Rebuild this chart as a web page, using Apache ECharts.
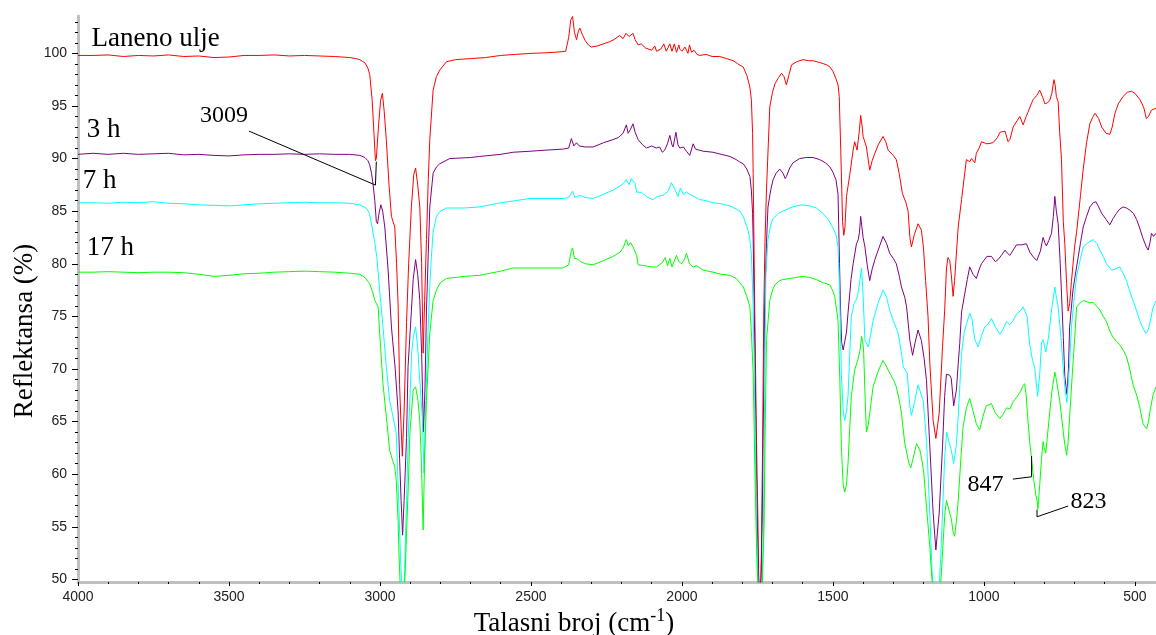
<!DOCTYPE html>
<html><head><meta charset="utf-8">
<script src="https://cdn.jsdelivr.net/npm/echarts@6/dist/echarts.min.js"></script>
<style>html,body{margin:0;padding:0;background:#fff}#c{width:1156px;height:635px}</style>
</head><body><div id="c"></div>
<script>
// ---------- DATA ----------
const seriesNames = ['Laneno ulje', '3 h', '7 h', '17 h'];
const xMajorTicks = [4000, 3500, 3000, 2500, 2000, 1500, 1000, 500];
const xMinorTicks = [4000,3900,3800,3700,3600,3500,3400,3300,3200,3100,3000,2900,2800,2700,2600,2500,2400,2300,2200,2100,2000,1900,1800,1700,1600,1500,1400,1300,1200,1100,1000,900,800,700,600,500];
const yMajorTicks = [50, 55, 60, 65, 70, 75, 80, 85, 90, 95, 100];
const yMinorTicks = [50,51,52,53,54,55,56,57,58,59,60,61,62,63,64,65,66,67,68,69,70,71,72,73,74,75,76,77,78,79,80,81,82,83,84,85,86,87,88,89,90,91,92,93,94,95,96,97,98,99,100,101,102,103];

// Laneno ulje (red)
const lanenoUlje = [
[4000,99.8],[3950,99.8],[3900,99.85],[3850,99.7],[3800,99.8],[3750,99.75],[3700,99.85],[3650,99.7],[3600,99.75],[3550,99.6],[3500,99.65],[3450,99.8],[3400,99.8],[3350,99.85],[3300,99.75],[3250,99.8],[3200,99.75],[3150,99.7],[3100,99.6],[3080,99.5],[3067,99.4],[3050,99.1],[3040,98.6],[3034,98.0],[3026,95.6],[3020,92.5],[3015,89.8],[3012,90.0],[3005,93.0],[2998,95.5],[2992,96.2],[2986,94.5],[2979,91.8],[2970,87.5],[2962,84.5],[2951,83.5],[2945,80.0],[2940,76.2],[2935,68.5],[2930,64.5],[2926,61.7],[2920,66],[2912,74.4],[2905,80],[2896,85.4],[2888,88.5],[2882,89.1],[2875,87.5],[2868,85.4],[2862,80],[2857,71.5],[2852,76.5],[2846,82.3],[2840,88],[2835,91.8],[2824,96.5],[2813,97.8],[2802,98.4],[2780,99.2],[2750,99.4],[2700,99.5],[2650,99.6],[2600,99.8],[2550,99.9],[2500,100.0],[2450,100.05],[2400,100.15],[2385,100.2],[2375,101.5],[2368,103.2],[2362,103.5],[2356,102.0],[2349,101.3],[2343,102.1],[2338,102.4],[2330,101.8],[2320,101.2],[2310,100.8],[2300,100.6],[2280,100.7],[2260,100.9],[2240,101.1],[2225,101.3],[2206,101.7],[2195,101.4],[2185,101.9],[2175,101.6],[2162,101.9],[2155,101.3],[2145,100.8],[2135,100.9],[2120,100.5],[2100,100.3],[2090,100.7],[2084,100.2],[2070,100.4],[2060,100.9],[2052,100.2],[2045,100.6],[2040,100.9],[2033,100.2],[2025,100.9],[2018,100.1],[2010,100.8],[2007,100.4],[2000,100.2],[1990,100.6],[1980,100.0],[1975,100.8],[1968,100.1],[1960,100.3],[1950,99.9],[1941,99.8],[1920,99.9],[1900,99.7],[1875,99.7],[1852,99.5],[1830,99.3],[1815,99.0],[1797,98.7],[1785,97.9],[1775,96.8],[1770,95.6],[1766,92.4],[1764,88.6],[1759,75.9],[1753,63.2],[1748,55.0],[1745,49.0],[1740,48.5],[1737,52],[1733,62.3],[1729,75.3],[1725,82],[1720,87.0],[1709,94.9],[1700,96.3],[1692,97.1],[1680,97.7],[1670,98.1],[1662,97.8],[1654,97.0],[1645,98.0],[1637,98.9],[1620,99.2],[1599,99.4],[1580,99.3],[1566,99.3],[1540,99.1],[1520,98.9],[1510,98.7],[1500,98.3],[1490,97.6],[1483,97.0],[1479,95.9],[1474,90.8],[1468,84.0],[1464,82.7],[1460,83.5],[1455,86.4],[1444,88.5],[1433,90.8],[1428,91.6],[1420,90.8],[1413,92.5],[1408,94.1],[1403,93.0],[1400,92.1],[1394,92.0],[1389,91.1],[1378,88.9],[1370,89.8],[1361,90.5],[1350,91.3],[1334,92.1],[1325,91.6],[1317,90.8],[1300,90.3],[1290,89.9],[1280,88.5],[1270,86.7],[1258,85.8],[1251,85.0],[1245,82.5],[1240,81.6],[1230,82.8],[1218,83.8],[1207,83.2],[1200,81.5],[1193,78.4],[1185,75.0],[1179,70.5],[1168,65.1],[1159,63.4],[1148,65.8],[1137,72.1],[1130,75.5],[1124,79.5],[1119,80.6],[1113,80.3],[1108,79],[1102,76.9],[1097,78.4],[1085,83.5],[1074,86.1],[1058,89.9],[1047,89.7],[1041,90.0],[1030,89.6],[1025,90.5],[1014,91.1],[1008,91.6],[990,91.4],[970,91.5],[955,92.0],[947,92.5],[930,92.6],[920,91.6],[914,91.8],[903,93.0],[890,93.6],[881,94.0],[870,93.2],[860,94.0],[854,94.4],[843,95.2],[837,95.6],[825,96.0],[815,96.5],[812,96.5],[805,95.8],[798,95.2],[790,95.3],[782,95.5],[775,96.2],[768,97.5],[764,97.0],[760,95.9],[754,95.4],[749,92.5],[743,89.9],[737,84],[732,81.9],[726,78.1],[721,75.5],[716,76.2],[710,78.3],[700,81.5],[693,83],[680,86.5],[671,89],[660,91.5],[649,93.3],[640,93.9],[632,94.3],[620,93.8],[610,93.0],[595,92.4],[583,92.3],[575,93],[566,94.3],[555,95.2],[539,95.9],[525,96.3],[511,96.4],[500,96.2],[483,95.6],[470,94.8],[462,93.8],[455,94.0],[445,94.6],[430,94.8]
];

// 3 h (purple)
const h3 = [
[4000,90.4],[3950,90.5],[3900,90.4],[3850,90.5],[3800,90.4],[3750,90.45],[3700,90.5],[3650,90.35],[3600,90.4],[3550,90.3],[3500,90.25],[3450,90.35],[3400,90.4],[3350,90.4],[3300,90.45],[3250,90.4],[3200,90.45],[3150,90.4],[3100,90.4],[3067,90.3],[3050,90.1],[3040,89.8],[3034,89.4],[3028,88.6],[3023,87.6],[3017,86.0],[3012,84.0],[3008,83.8],[3003,84.8],[2997,85.6],[2991,85.0],[2984,83.5],[2973,79.4],[2962,74.0],[2950,70.2],[2940,66.0],[2935,61.5],[2930,57.5],[2925,54.2],[2920,57.5],[2912,63.5],[2907,70.2],[2896,75.5],[2890,78.5],[2882,80.4],[2875,79.0],[2868,76.5],[2862,71.5],[2856,64],[2851,68],[2846,75.5],[2840,81],[2835,85.4],[2824,88.6],[2813,89.2],[2802,89.5],[2769,90.0],[2700,90.1],[2670,90.2],[2600,90.4],[2559,90.6],[2500,90.7],[2450,90.8],[2393,90.9],[2375,91.0],[2366,91.9],[2358,91.2],[2349,91.5],[2340,91.2],[2320,91.1],[2294,91.1],[2260,91.5],[2228,91.8],[2210,92.0],[2195,92.4],[2184,93.2],[2178,92.4],[2170,92.8],[2162,93.3],[2155,92.5],[2145,91.8],[2130,91.3],[2117,91.0],[2100,91.2],[2085,91.0],[2074,91.1],[2065,90.6],[2057,90.8],[2048,91.4],[2040,92.2],[2033,91.3],[2029,91.1],[2020,92.5],[2013,91.3],[2007,91.0],[1995,91.1],[1985,90.7],[1974,90.3],[1963,91.4],[1955,90.9],[1930,90.7],[1897,90.6],[1870,90.4],[1841,90.2],[1820,89.9],[1810,89.7],[1797,89.5],[1785,89.0],[1775,88.3],[1770,87.0],[1766,84.8],[1764,82.3],[1759,72.7],[1753,60.1],[1748,52],[1744,48.5],[1738,50],[1734,56],[1731,63.2],[1726,75.9],[1720,82],[1715,85.4],[1706,87.0],[1698,88.0],[1688,88.6],[1676,89.0],[1665,88.6],[1658,88.1],[1654,88.3],[1643,89.1],[1632,89.6],[1610,90.0],[1588,90.1],[1566,90.1],[1544,89.9],[1525,89.6],[1510,89.2],[1500,88.7],[1490,88.0],[1483,86.6],[1478,80],[1474,75],[1471,72.5],[1466,71.8],[1461,71.8],[1455,73.5],[1450,75.3],[1440,78.5],[1433,80.0],[1422,81.9],[1416,82.3],[1412,83.0],[1408,84.5],[1404,83.5],[1400,82.5],[1394,81.6],[1386,79.8],[1378,78.4],[1370,79.5],[1361,80.4],[1350,81.3],[1334,82.6],[1322,81.9],[1312,81.0],[1300,80.5],[1290,80.0],[1280,78.8],[1273,77.8],[1262,76.8],[1256,75.9],[1245,72.7],[1236,71.3],[1228,72.5],[1218,73.7],[1207,72.7],[1198,71],[1190,68.9],[1179,62.6],[1168,56.3],[1159,52.8],[1148,56.3],[1137,62.6],[1130,67.4],[1124,69.5],[1119,69.5],[1113,69.4],[1108,69.1],[1100,66.5],[1091,68.0],[1085,70.5],[1080,72.4],[1074,75.4],[1063,77.2],[1055,78.5],[1047,79.7],[1036,79.0],[1025,78.6],[1015,79.5],[1008,80.0],[990,80.7],[975,80.7],[962,80.2],[953,80.4],[942,80.8],[930,81.3],[922,81.0],[914,80.8],[903,81.3],[892,81.8],[875,81.8],[859,81.9],[848,81.1],[835,80.6],[825,80.3],[820,80.2],[813,81.2],[804,82.5],[798,82.0],[793,81.7],[785,82.2],[776,82.9],[770,84.5],[765,86.4],[760,85.0],[754,83.8],[748,80.5],[743,77.2],[737,73],[732,69.3],[725,67.6],[720,70],[716,74.0],[705,77.5],[693,79.7],[680,82],[671,83.5],[660,84.5],[649,85.4],[638,85.8],[629,85.9],[620,85.4],[610,84.8],[595,84.2],[583,83.7],[572,84.3],[561,84.8],[550,85.2],[539,85.4],[528,85.3],[517,85.1],[505,84.8],[494,84.2],[483,83.3],[473,82.4],[462,81.6],[456,81.3],[450,82.0],[445,82.9],[438,82.6],[430,82.9]
];

// 7 h (cyan)
const h7 = [
[4000,85.8],[3950,85.8],[3900,85.75],[3850,85.85],[3800,85.8],[3750,85.9],[3700,85.75],[3650,85.7],[3600,85.6],[3550,85.55],[3500,85.5],[3450,85.6],[3400,85.7],[3350,85.75],[3300,85.8],[3250,85.85],[3200,85.8],[3150,85.8],[3100,85.75],[3067,85.6],[3045,85.3],[3035,84.8],[3028,83.8],[3017,82.0],[3010,80.5],[3001,77.5],[2990,74.0],[2979,70.2],[2968,67.0],[2957,65.5],[2946,63.9],[2938,57.5],[2932,52],[2926,48.5],[2920,49],[2912,57.5],[2906,64],[2901,67.0],[2895,71.5],[2890,73],[2882,74.0],[2875,72.0],[2871,70.2],[2860,65.5],[2854,60.1],[2848,67.0],[2841,73.4],[2835,78],[2830,80.5],[2824,83.0],[2813,84.5],[2800,85.0],[2780,85.3],[2720,85.3],[2670,85.4],[2600,85.8],[2550,86.0],[2504,86.2],[2450,86.2],[2393,86.2],[2375,86.3],[2362,86.9],[2355,86.3],[2338,86.5],[2320,86.3],[2294,86.2],[2260,86.6],[2228,87.0],[2205,87.4],[2195,87.6],[2184,88.0],[2175,87.5],[2168,88.1],[2162,88.2],[2155,87.6],[2150,86.8],[2135,86.8],[2117,86.4],[2105,86.2],[2096,86.1],[2080,86.4],[2063,86.5],[2045,86.9],[2035,87.7],[2029,87.4],[2022,87.0],[2013,86.4],[2005,87.2],[1995,86.6],[1985,86.8],[1974,86.6],[1960,86.4],[1941,86.1],[1920,86.0],[1897,85.8],[1870,85.7],[1841,85.5],[1820,85.2],[1808,85.0],[1797,84.5],[1781,83.2],[1775,82.3],[1770,81.0],[1764,75.9],[1758,65],[1752,54],[1747,48.5],[1735,48.5],[1730,55],[1726,68],[1722,79.1],[1715,82.3],[1706,83.7],[1698,84.3],[1680,84.8],[1665,85.0],[1643,85.3],[1621,85.5],[1600,85.6],[1577,85.5],[1555,85.3],[1533,84.8],[1515,84.2],[1500,83.4],[1490,82.8],[1483,81.6],[1478,77.5],[1472,69.5],[1466,66],[1461,65.1],[1455,66],[1450,67.4],[1439,75.0],[1430,76.2],[1424,76.5],[1418,77.0],[1410,78.5],[1405,79.6],[1400,77],[1394,72.7],[1383,72.1],[1375,73.2],[1367,74.6],[1350,76.3],[1334,77.5],[1322,76.8],[1312,75.6],[1300,74.6],[1284,73.4],[1273,71.5],[1267,70.2],[1254,69.6],[1245,66.4],[1240,65.6],[1230,66.8],[1218,68.5],[1207,67.5],[1201,67.0],[1190,63.2],[1179,56.3],[1172,51],[1166,48.5],[1150,48.5],[1143,52],[1137,56.3],[1130,61.5],[1123,64.0],[1115,63.0],[1108,62.3],[1100,61.0],[1091,62.8],[1085,65.5],[1074,71.5],[1065,73.5],[1055,74.5],[1047,75.3],[1040,74.8],[1030,72.8],[1019,72.1],[1008,73.2],[997,74.0],[985,74.3],[975,74.8],[962,74.0],[947,73.3],[936,73.8],[925,74.5],[914,74.2],[903,74.6],[892,75.2],[880,75.5],[870,75.9],[865,76.0],[857,75.0],[848,72.3],[840,71.0],[831,70.0],[822,67.4],[815,69.5],[809,72.5],[804,72.8],[795,71.6],[786,73.0],[776,75.6],[770,76.8],[765,77.8],[760,76.8],[754,75.9],[743,72.4],[737,70],[732,68.3],[725,66.8],[716,70.5],[710,74.0],[700,77.0],[693,78.8],[680,80.5],[671,81.6],[655,82.0],[638,82.3],[625,81.9],[616,81.3],[605,80.7],[594,80.0],[577,79.4],[565,79.5],[550,79.7],[539,79.1],[528,78.4],[517,77.4],[506,76.5],[495,75.6],[484,74.6],[472,73.8],[464,73.4],[457,73.6],[451,74.3],[440,75.8],[430,76.5]
];

// 17 h (green)
const h17 = [
[4000,79.2],[3950,79.2],[3900,79.25],[3850,79.2],[3800,79.15],[3750,79.2],[3700,79.2],[3650,79.15],[3600,79.0],[3550,78.8],[3500,78.9],[3450,79.05],[3400,79.1],[3350,79.2],[3300,79.25],[3250,79.3],[3200,79.25],[3150,79.2],[3100,79.1],[3067,79.0],[3050,78.7],[3034,78.1],[3023,77.2],[3017,76.5],[3006,75.9],[3001,73.4],[2990,68.6],[2979,65.5],[2968,62.3],[2957,61.2],[2951,60.7],[2946,59.4],[2940,55.6],[2937,52.5],[2932,48.5],[2920,48.5],[2916,51],[2912,54.4],[2906,59],[2901,63.9],[2890,68.0],[2882,68.3],[2874,67.0],[2868,65],[2863,61.3],[2857,54.7],[2852,61.7],[2846,67.0],[2835,73.4],[2824,76.5],[2813,77.5],[2800,78.2],[2780,78.6],[2720,78.8],[2670,78.9],[2600,79.3],[2559,79.6],[2450,79.6],[2393,79.6],[2375,79.9],[2366,81.3],[2362,81.5],[2356,80.5],[2349,80.5],[2335,80.2],[2320,80.0],[2294,79.9],[2260,80.3],[2228,80.7],[2205,81.1],[2195,81.5],[2184,82.3],[2178,81.7],[2170,82.0],[2162,81.6],[2150,80.8],[2145,79.9],[2120,79.8],[2100,79.7],[2084,79.7],[2065,80.1],[2055,80.6],[2048,79.8],[2040,80.5],[2033,79.7],[2029,79.7],[2018,80.8],[2010,80.2],[2000,80.0],[1992,80.4],[1985,81.0],[1975,80.0],[1963,79.7],[1950,79.8],[1930,79.4],[1897,79.2],[1870,79.0],[1841,78.9],[1820,78.6],[1797,77.8],[1786,77.0],[1775,75.9],[1770,73.5],[1764,69.6],[1758,60],[1752,52],[1747,48.5],[1735,48.5],[1728,55],[1724,65],[1720,72.7],[1709,76.5],[1700,77.5],[1692,78.0],[1676,78.4],[1665,78.5],[1643,78.6],[1621,78.7],[1600,78.8],[1577,78.7],[1555,78.5],[1533,78.2],[1510,78.0],[1500,77.4],[1494,76.9],[1483,74.6],[1477,68.9],[1472,62.6],[1466,59],[1461,58.3],[1455,59],[1450,61.0],[1439,67.4],[1428,69.9],[1418,70.8],[1410,71.8],[1405,73.1],[1400,72.3],[1398,71.5],[1393,67],[1389,64.0],[1383,64.7],[1378,65.8],[1367,68.3],[1350,69.8],[1334,70.8],[1322,70.2],[1312,69.6],[1300,69.0],[1290,68.3],[1280,67],[1273,65.8],[1262,62.9],[1248,61.0],[1242,60.6],[1230,62.0],[1223,62.9],[1212,62.3],[1205,61.3],[1199,60.1],[1190,56.9],[1179,53.1],[1172,50],[1166,48.5],[1145,48.5],[1138,52],[1130,56],[1124,57.5],[1115,56.5],[1108,55.8],[1102,54.5],[1097,54.1],[1091,55.5],[1085,57.5],[1075,62],[1069,64.5],[1058,66.3],[1047,67.2],[1036,66.0],[1025,64.8],[1014,64.2],[1003,65.5],[992,66.5],[975,66.7],[962,65.8],[947,65.3],[936,65.7],[925,66.3],[914,66.2],[903,66.9],[892,67.3],[880,67.8],[870,68.4],[865,68.6],[860,67.5],[854,65.1],[848,63.0],[843,61.7],[835,59.5],[828,58],[824,57.5],[821,56.7],[815,59],[809,61.5],[804,63.1],[800,62.5],[795,62.0],[785,65],[775,67.8],[765,69.7],[760,69.0],[749,67.0],[737,64],[732,62.8],[726,61.8],[721,63],[716,65.5],[705,70.5],[699,73],[693,75.9],[680,76.3],[671,76.5],[660,76.4],[649,76.3],[638,76.3],[627,76.0],[616,75.6],[605,75.0],[594,74.5],[583,73.6],[572,73.0],[561,72.6],[550,72.3],[539,71.8],[528,71.2],[517,70.0],[506,68.5],[494,67.5],[484,66.4],[473,64.8],[461,64.3],[455,65.0],[448,66.3],[440,67.5],[430,68.3]
];

// Text annotations anchored in data coordinates [wavenumber, value]
const curveLabels = [
  {text: 'Laneno ulje', at: [3955, 101.36]},
  {text: '3 h', at: [3971, 92.76]},
  {text: '7 h', at: [3984, 87.84]},
  {text: '17 h', at: [3971, 81.51]}
];
const peakLabels = [
  {text: '3009', at: [3596, 94.06]},
  {text: '847', at: [1054, 58.96]},
  {text: '823', at: [713, 57.38]}
];
const leader3009 = [[3434, 92.61], [3015, 87.48], [3012, 89.70]];
const leader847 = [[904, 59.53], [842, 59.75], [842, 61.72]];
const leader823 = [[721, 56.97], [824, 55.95], [824, 56.65]];

// ---------- CHART ----------
const colors = ['#ff0000', '#800080', '#00ffff', '#00ff00'];
const SERIF = '"Liberation Serif", "Times New Roman", serif';
const SANS = '"Liberation Sans", Arial, sans-serif';
const chart = echarts.init(document.getElementById('c'), null, {renderer: 'canvas'});

const X_MIN = 430, X_MAX = 4000, Y_MIN = 49.75, Y_MAX = 103.55;
const plainNum = v => String(v);

function leaderSeries(data) {
  return {type: 'line', data: data, xAxisIndex: 0, yAxisIndex: 0, symbol: 'none', silent: true,
    lineStyle: {color: '#000', width: 1}, z: 5, animation: false};
}

const option = {
  animation: false,
  backgroundColor: '#ffffff',
  grid: {left: 78, right: 0, top: 16, bottom: 53},
  xAxis: [
    {type: 'value', inverse: true, min: X_MIN, max: X_MAX, position: 'bottom',
     axisLine: {show: true, onZero: false, lineStyle: {color: '#c0c0c0', width: 3}},
     axisTick: {show: true, customValues: xMajorTicks, length: 4, lineStyle: {color: '#000', width: 1}},
     axisLabel: {show: true, customValues: xMajorTicks, formatter: plainNum, color: '#222', fontFamily: SANS, fontSize: 14, margin: 8},
     splitLine: {show: false}},
    {type: 'value', inverse: true, min: X_MIN, max: X_MAX, position: 'bottom',
     axisLine: {show: false, onZero: false},
     axisTick: {show: true, customValues: xMinorTicks, length: 2, lineStyle: {color: '#000', width: 1}},
     axisLabel: {show: false}, splitLine: {show: false}}
  ],
  yAxis: [
    {type: 'value', min: Y_MIN, max: Y_MAX, position: 'left',
     axisLine: {show: true, onZero: false, lineStyle: {color: '#c0c0c0', width: 3}},
     axisTick: {show: true, customValues: yMajorTicks, length: 6, lineStyle: {color: '#000', width: 1}},
     axisLabel: {show: true, customValues: yMajorTicks, formatter: plainNum, color: '#222', fontFamily: SANS, fontSize: 14, margin: 11},
     splitLine: {show: false}},
    {type: 'value', min: Y_MIN, max: Y_MAX, position: 'left',
     axisLine: {show: false, onZero: false},
     axisTick: {show: true, customValues: yMinorTicks, length: 3, lineStyle: {color: '#000', width: 1}},
     axisLabel: {show: false}, splitLine: {show: false}}
  ],
  series: [
    {name: seriesNames[0], type: 'line', data: lanenoUlje, color: colors[0]},
    {name: seriesNames[1], type: 'line', data: h3, color: colors[1]},
    {name: seriesNames[2], type: 'line', data: h7, color: colors[2]},
    {name: seriesNames[3], type: 'line', data: h17, color: colors[3]}
  ].map(s => Object.assign(s, {xAxisIndex: 0, yAxisIndex: 0, symbol: 'none', showSymbol: false, clip: true,
      lineStyle: {width: 1, color: s.color}, silent: true}))
   .concat([leaderSeries(leader3009), leaderSeries(leader847), leaderSeries(leader823)])
};
chart.setOption(option);

function px(p) { return chart.convertToPixel({xAxisIndex: 0, yAxisIndex: 0}, p); }
const graphics = [];
curveLabels.forEach(l => {
  const p = px(l.at);
  graphics.push({type: 'text', x: p[0], y: p[1], silent: true,
    style: {text: l.text, font: '27px ' + SERIF, fill: '#000', align: 'left', verticalAlign: 'middle'}});
});
peakLabels.forEach(l => {
  const p = px(l.at);
  graphics.push({type: 'text', x: p[0], y: p[1], silent: true,
    style: {text: l.text, font: '24px ' + SERIF, fill: '#000', align: 'left', verticalAlign: 'middle'}});
});
// axis titles
graphics.push({type: 'text', x: 25, y: 331, rotation: Math.PI / 2, silent: true,
  style: {text: 'Reflektansa (%)', font: '27px ' + SERIF, fill: '#000', align: 'center', verticalAlign: 'middle'}});
graphics.push({type: 'text', x: 574, y: 622, silent: true,
  style: {text: '{m|Talasni broj (cm}{s|-1}{m|)}', align: 'center', verticalAlign: 'middle',
    rich: {m: {font: '27px ' + SERIF, fill: '#000', verticalAlign: 'bottom', lineHeight: 30},
           s: {font: '18px ' + SERIF, fill: '#000', verticalAlign: 'top', lineHeight: 30}}}});
chart.setOption({graphic: graphics});
</script></body></html>
